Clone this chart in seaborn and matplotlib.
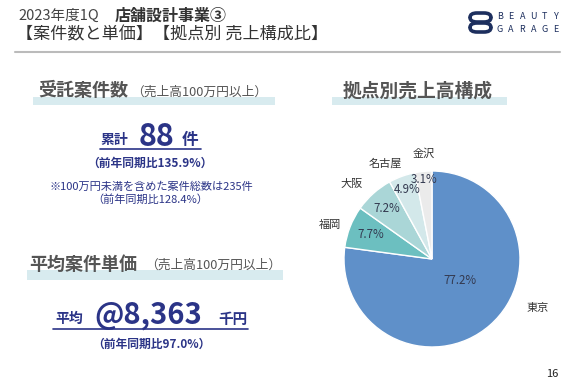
import numpy as np
import seaborn as sns
import matplotlib.pyplot as plt
from matplotlib.patches import Rectangle, FancyBboxPatch
from matplotlib.lines import Line2D

# data
regions = ["東京", "福岡", "大阪", "名古屋", "金沢"]
shares = [77.2, 7.7, 7.2, 4.9, 3.1]
colors = ["#5f90c9", "#6cbfc0", "#aad6d7", "#d3e8ea", "#ebebeb"]

title_year = "2023年度1Q"
title_main = "店舗設計事業③"
subtitle = "【案件数と単価】【拠点別 売上構成比】"
count_total = 88
count_yoy = 135.9
count_all = 235
count_all_yoy = 128.4
unit_price = 8363
unit_price_yoy = 97.0
page_no = "16"

# label placement (fraction of pie radius, angle nudge in degrees)
pct_r = [0.42, 0.75, 0.77, 0.84, 0.91]
label_r = [1.32, 1.22, 1.25, 1.21, 1.2]
label_shift = [24, 3, 5, 6, -1]

sns.set_theme(style="white")
plt.rcParams["font.family"] = ["Noto Sans CJK JP", "DejaVu Sans"]

W, H = 580, 384
fig = plt.figure(figsize=(W / 100, H / 100), dpi=100)
fig.patch.set_facecolor("white")


def fx(x):
    return x / W


def fy(y):
    return 1 - y / H


NAVY = "#2b3487"
GREY = "#555555"
BAND = "#d8ebef"


def txt(x, y, s, size, color=GREY, weight="normal", ha="left", va="center"):
    fig.text(fx(x), fy(y), s, fontsize=size, color=color, fontweight=weight, ha=ha, va=va)


def band(x0, x1, y0, y1):
    fig.add_artist(Rectangle((fx(x0), fy(y1)), fx(x1) - fx(x0), fy(y0) - fy(y1),
                             transform=fig.transFigure, color=BAND, zorder=0, lw=0))


def hline(x0, x1, y, color, lw):
    fig.add_artist(Line2D([fx(x0), fx(x1)], [fy(y), fy(y)], transform=fig.transFigure,
                          color=color, lw=lw))


# header
txt(18, 16, title_year, 10.5, color="#444444")
txt(115, 16, title_main, 11.5, color="#333333", weight="bold")
txt(16, 34, subtitle, 12.3, color="#333333")
hline(15, 560, 52, "#bbbbbb", 1.5)

# logo
for y0 in (13, 23):
    fig.add_artist(FancyBboxPatch((fx(470), fy(y0 + 9)), fx(21), fy(0) - fy(9),
                                  boxstyle="round,pad=0,rounding_size=0.012",
                                  transform=fig.transFigure, fill=False,
                                  ec="#1d2f5e", lw=2.6))
for i, ch in enumerate("BEAUTY"):
    txt(500 + i * 11.2, 16.5, ch, 6.5, color="#1d2f5e", ha="center")
for i, ch in enumerate("GARAGE"):
    txt(500 + i * 11.2, 29.5, ch, 6.5, color="#1d2f5e", ha="center")

# 受託案件数 block
band(33, 275, 97, 105)
txt(38, 91, "受託案件数", 13, weight="bold")
txt(131, 92, "（売上高100万円以上）", 9.2)
txt(128, 140, "累計", 10, color=NAVY, weight="bold", ha="right")
txt(156, 137, f"{count_total}", 22, color=NAVY, weight="bold", ha="center")
txt(182, 140, "件", 12, color=NAVY, weight="bold")
hline(100, 201, 149, NAVY, 1.2)
txt(150, 163, f"（前年同期比{count_yoy}%）", 8.5, color=NAVY, weight="bold", ha="center")
txt(151, 187, f"※100万円未満を含めた案件総数は{count_all}件", 8, color=NAVY, ha="center")
txt(150, 200, f"（前年同期比{count_all_yoy}%）", 8, color=NAVY, ha="center")

# 平均案件単価 block
band(27, 283, 270, 280)
txt(29, 264, "平均案件単価", 13, weight="bold")
txt(145, 265, "（売上高100万円以上）", 9.2)
txt(55, 319, "平均", 10, color=NAVY, weight="bold")
txt(148, 315, f"@{unit_price:,}", 21, color=NAVY, weight="bold", ha="center")
txt(218, 319, "千円", 10.5, color=NAVY, weight="bold")
hline(53, 248, 329, NAVY, 1.2)
txt(151, 344, f"（前年同期比{unit_price_yoy}%）", 8.5, color=NAVY, weight="bold", ha="center")

# 拠点別売上高構成 block
band(332, 507, 97, 105)
txt(343, 91, "拠点別売上高構成", 13.5, weight="bold")

ax = fig.add_axes([fx(344), fy(347), fx(176), fy(0) - fy(176)])
wedges, labels, pcts = ax.pie(
    shares, labels=regions, colors=colors, startangle=90, counterclock=False,
    autopct="%.1f%%", pctdistance=0.8, labeldistance=1.22,
    wedgeprops=dict(edgecolor="white", linewidth=1),
    textprops=dict(fontsize=8, color="#333333"),
)
for w, lab, t, v, r, lr, ls in zip(wedges, labels, pcts, shares, pct_r, label_r, label_shift):
    mid = np.deg2rad((w.theta1 + w.theta2) / 2)
    t.set_text(f"{v}%")
    t.set_fontsize(8.3)
    t.set_color("#33394f")
    t.set_position((r * np.cos(mid), r * np.sin(mid)))
    la = mid + np.deg2rad(ls)
    lab.set_position((lr * np.cos(la), lr * np.sin(la)))
    lab.set_ha("center")
pcts[0].set_position((0.32, -0.24))
ax.set_xlim(-1, 1)
ax.set_ylim(-1, 1)
ax.set_aspect("equal")
ax.axis("off")

txt(552, 374, page_no, 8, color="#222222", ha="center")

fig.savefig("out.png", dpi=100)
